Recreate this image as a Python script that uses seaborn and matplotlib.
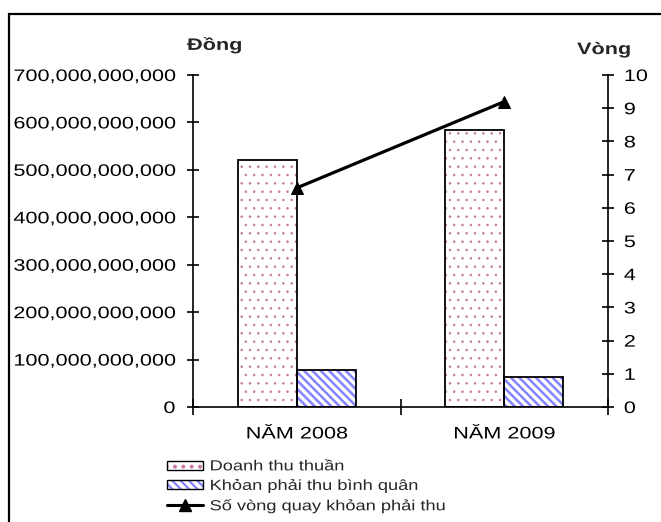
import matplotlib
matplotlib.use("Agg")
import matplotlib.pyplot as plt
import matplotlib.ticker as mticker
from matplotlib.patches import Rectangle, Patch
from matplotlib.lines import Line2D
from matplotlib.legend_handler import HandlerTuple
from matplotlib.patheffects import AbstractPathEffect
from matplotlib.transforms import Affine2D
import seaborn as sns
import pandas as pd

years = ["NĂM 2008", "NĂM 2009"]
doanh_thu = [521e9, 584e9]
khoan_phai_thu = [78e9, 64e9]
so_vong_quay = [6.6, 9.2]

series_names = ["Doanh thu thuần", "Khỏan phải thu bình quân"]
line_name = "Số vòng quay khỏan phải thu"
left_title = "Đồng"
right_title = "Vòng"

sns.set_theme(style="white")
plt.rcParams["font.family"] = ["Liberation Sans", "DejaVu Sans"]
plt.rcParams["hatch.linewidth"] = 1.6


class WideText(AbstractPathEffect):
    """Draw text glyphs widened horizontally around a fixed anchor."""

    def __init__(self, sx=1.3, anchor="left"):
        super().__init__()
        self.sx = sx
        self.anchor = anchor

    def draw_path(self, renderer, gc, tpath, affine, rgbFace=None):
        xs = tpath.vertices[:, 0]
        if len(xs) == 0:
            return
        x0 = {"left": 0.0, "right": xs.max(), "center": xs.max() / 2}[self.anchor]
        pre = Affine2D().translate(-x0, 0).scale(self.sx, 1).translate(x0, 0)
        renderer.draw_path(gc, tpath, pre + affine, rgbFace)


df = pd.DataFrame({
    "Năm": years * 2,
    "Giá trị": doanh_thu + khoan_phai_thu,
    "Chỉ tiêu": [series_names[0]] * len(years) + [series_names[1]] * len(years),
})

fig = plt.figure(figsize=(6.61, 5.22), dpi=100)
ax = fig.add_axes([0.292, 0.2203, 0.628, 0.636])

sns.barplot(data=df, x="Năm", y="Giá trị", hue="Chỉ tiêu", order=years,
            hue_order=series_names, width=0.57, ax=ax, legend=False,
            palette=["white", "white"], saturation=1)

# pattern fill: (hatch, hatch colour, hatch line width)
fills = {series_names[0]: ("..", "#c87aa6", 0.6),
         series_names[1]: ("\\\\\\\\", "#8484ff", 1.8)}
for container, name in zip(ax.containers, series_names):
    hatch, hcolor, hlw = fills[name]
    for bar in container:
        bar.set_hatch(hatch)
        bar.set_edgecolor(hcolor)
        bar.set_linewidth(0)
        if hasattr(bar, "set_hatch_linewidth"):
            bar.set_hatch_linewidth(hlw)
        else:
            bar._hatch_linewidth = hlw
        ax.add_patch(Rectangle(bar.get_xy(), bar.get_width(), bar.get_height(),
                               fill=False, edgecolor="black", linewidth=1.3,
                               zorder=bar.get_zorder() + 0.1))

ax.set_xlim(-0.5, 1.5)
ax.set_ylim(0, 700e9)
ax.yaxis.set_major_locator(mticker.MultipleLocator(100e9))
ax.yaxis.set_major_formatter(mticker.FuncFormatter(lambda v, p: f"{v:,.0f}"))
ax.set_xlabel("")
ax.set_ylabel("")

# category separators as major ticks, labels on minor ticks
ax.set_xticks([-0.5, 0.5, 1.5])
ax.set_xticklabels([])
ax.set_xticks([0, 1], minor=True)
ax.set_xticklabels(years, minor=True)
ax.tick_params(axis="x", which="major", direction="inout", length=11, width=1.2,
               bottom=True, color="black")
ax.tick_params(axis="x", which="minor", length=0, pad=14, labelsize=12,
               labelcolor="black")
ax.tick_params(axis="y", direction="inout", length=8.6, width=1.2, left=True,
               pad=8.5, labelsize=12, labelcolor="black", color="black")

for side in ["top", "right"]:
    ax.spines[side].set_visible(False)
for side in ["left", "bottom"]:
    ax.spines[side].set_color("black")
    ax.spines[side].set_linewidth(1.2)

ax2 = ax.twinx()
sns.lineplot(x=[0, 1], y=so_vong_quay, ax=ax2, color="black", linewidth=2.3,
             marker="^", markersize=9, markeredgecolor="black", legend=False)
ax2.set_ylim(0, 10)
ax2.set_xlim(-0.5, 1.5)
ax2.yaxis.set_major_locator(mticker.MultipleLocator(1))
ax2.tick_params(axis="y", direction="inout", length=8.6, width=1.2, right=True,
                pad=7, labelsize=12, labelcolor="black", color="black")
ax2.set_ylabel("")
for side in ["top", "left", "bottom"]:
    ax2.spines[side].set_visible(False)
ax2.spines["right"].set_color("black")
ax2.spines["right"].set_linewidth(1.2)

for lab in ax.get_yticklabels():
    lab.set_path_effects([WideText(1.3, "right")])
for lab in ax.get_xticklabels(minor=True):
    lab.set_path_effects([WideText(1.3, "center")])
for lab in ax2.get_yticklabels():
    lab.set_path_effects([WideText(1.3, "left")])

t1 = fig.text(0.283, 0.914, left_title, fontsize=12, fontweight="bold",
              ha="left", va="center")
t2 = fig.text(0.873, 0.905, right_title, fontsize=12, fontweight="bold",
              ha="left", va="center")
for t in (t1, t2):
    t.set_path_effects([WideText(1.3, "left")])

# outer frame of the chart area
fig.add_artist(Rectangle((9 / 661, -0.2), 1.2, 1.2 - 14 / 522,
                         transform=fig.transFigure, fill=False,
                         edgecolor="black", linewidth=1.6))

h1 = (Patch(facecolor="white", edgecolor="#c87aa6", hatch="..", linewidth=0),
      Patch(facecolor="none", edgecolor="black", linewidth=1.0))
h2 = (Patch(facecolor="white", edgecolor="#8484ff", hatch="\\\\\\\\", linewidth=0),
      Patch(facecolor="none", edgecolor="black", linewidth=1.0))
h3 = Line2D([], [], color="black", linewidth=2.2, marker="^", markersize=8)
leg = fig.legend([h1, h2, h3], series_names + [line_name],
                 handler_map={tuple: HandlerTuple(ndivide=1, pad=0)},
                 loc="upper left", bbox_to_anchor=(0.252, 0.120), frameon=False,
                 fontsize=10.5, handlelength=2.5, handleheight=0.6,
                 handletextpad=0.45, labelspacing=0.38, borderaxespad=0,
                 borderpad=0)
for t in leg.get_texts():
    t.set_path_effects([WideText(1.25, "left")])

fig.savefig("out.png", dpi=100, facecolor="white")
